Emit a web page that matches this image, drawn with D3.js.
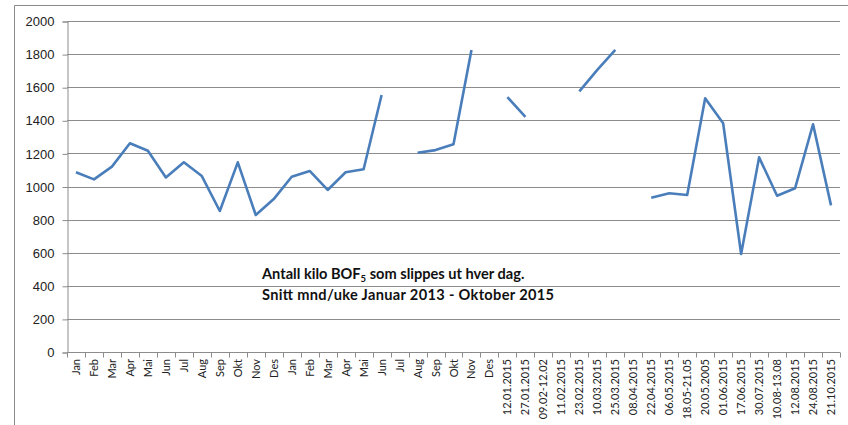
<!DOCTYPE html>
<html>
<head>
<meta charset="utf-8">
<script src="https://cdn.jsdelivr.net/npm/d3@7"></script>
<style>
  body { margin: 0; background: #fff; }
  svg { display: block; font-family: Lato, "Open Sans", sans-serif; }
</style>
</head>
<body>
<svg></svg>
<script>
// categories: months 2013, months 2014, then sampled dates 2015
var months2013 = ["Jan","Feb","Mar","Apr","Mai","Jun","Jul","Aug","Sep","Okt","Nov","Des"];
var months2014 = ["Jan","Feb","Mar","Apr","Mai","Jun","Jul","Aug","Sep","Okt","Nov","Des"];
var dates2015 = ["12.01.2015","27.01.2015","09.02-12.02","11.02.2015","23.02.2015","10.03.2015",
  "25.03.2015","08.04.2015","22.04.2015","06.05.2015","18.05-21.05","20.05.2005","01.06.2015",
  "17.06.2015","30.07.2015","10.08-13.08","12.08.2015","24.08.2015","21.10.2015"];

// kilo BOF5 per day (null = no value)
var values2013 = [1086, 1043, 1120, 1261, 1216, 1055, 1146, 1063, 852, 1146, 828, 924];
var values2014 = [1059, 1094, 979, 1086, 1104, 1553, null, 1204, 1220, 1255, 1825, null];
var values2015 = [1540, 1420, null, null, 1575, 1705, 1825, null, 932, 959, 949, 1533, 1382,
  592, 1176, 944, 989, 1376, 886];

var yTicks = [0, 200, 400, 600, 800, 1000, 1200, 1400, 1600, 1800, 2000];

var labels = months2013.concat(months2014, dates2015);
var values = values2013.concat(values2014, values2015);
var data = labels.map(function(l, i) { return { key: i, label: l, value: values[i] }; });

var width = 848, height = 425;
var margin = {top: 21, right: 8, bottom: 73, left: 67};

var svg = d3.select("svg")
    .attr("width", width)
    .attr("height", height);

// outer frame (top and left edges visible)
svg.append("path")
    .attr("d", "M14.5," + height + "V5.5H" + width)
    .attr("fill", "none")
    .attr("stroke", "#8a8a8a")
    .attr("stroke-width", 1);

var x = d3.scaleBand()
    .domain(data.map(function(d) { return d.key; }))
    .range([margin.left, width - margin.right]);

var y = d3.scaleLinear()
    .domain([0, 2000])
    .range([height - margin.bottom, margin.top]);

var g = svg.append("g");

// gridlines
g.selectAll("line.grid")
  .data(yTicks.filter(function(t) { return t > 0; }))
  .enter().append("line")
    .attr("class", "grid")
    .attr("x1", margin.left)
    .attr("x2", width - margin.right)
    .attr("y1", function(d) { return Math.round(y(d)) + 0.5; })
    .attr("y2", function(d) { return Math.round(y(d)) + 0.5; })
    .attr("stroke", "#8c8c8c")
    .attr("stroke-width", 1);

// y axis
var yAxis = g.append("g")
    .attr("transform", "translate(" + (margin.left + 0.5) + ",0.5)")
    .call(d3.axisLeft(y).tickValues(yTicks).tickSize(5).tickPadding(8).tickFormat(d3.format("d")));
yAxis.select(".domain").attr("stroke", "#8c8c8c");
yAxis.selectAll(".tick line").attr("stroke", "#8c8c8c");
yAxis.selectAll(".tick text")
    .attr("fill", "#222")
    .style("font-size", "13px");

// x axis: ticks between categories
var x0 = y(0);
var xAxis = g.append("g");
xAxis.append("line")
    .attr("x1", margin.left)
    .attr("x2", width - margin.right)
    .attr("y1", Math.round(x0) + 0.5)
    .attr("y2", Math.round(x0) + 0.5)
    .attr("stroke", "#8c8c8c");
xAxis.selectAll("line.tick")
  .data(d3.range(labels.length + 1))
  .enter().append("line")
    .attr("class", "tick")
    .attr("x1", function(i) { return Math.round(margin.left + i * x.bandwidth()) + 0.5; })
    .attr("x2", function(i) { return Math.round(margin.left + i * x.bandwidth()) + 0.5; })
    .attr("y1", Math.round(x0) + 0.5)
    .attr("y2", Math.round(x0) + 5.5)
    .attr("stroke", "#8c8c8c");

xAxis.selectAll("text")
  .data(data)
  .enter().append("text")
    .attr("transform", function(d) {
      return "translate(" + (x(d.key) + x.bandwidth() / 2 + 4) + "," + (x0 + 7) + ") rotate(-90)";
    })
    .attr("text-anchor", "end")
    .attr("fill", "#222")
    .style("font-size", "11px")
    .text(function(d) { return d.label; });

// the series line, broken where values are missing
var line = d3.line()
    .defined(function(d) { return d.value != null; })
    .x(function(d) { return x(d.key) + x.bandwidth() / 2; })
    .y(function(d) { return y(d.value); });

g.append("path")
    .datum(data)
    .attr("fill", "none")
    .attr("stroke", "#4a7ebb")
    .attr("stroke-width", 2.6)
    .attr("stroke-linejoin", "round")
    .attr("d", line);

// annotation
var note = g.append("text")
    .attr("x", 262)
    .attr("y", 279)
    .attr("fill", "#111")
    .style("font-size", "14.6px")
    .style("font-weight", "bold");
note.append("tspan").text("Antall kilo BOF");
note.append("tspan").attr("dy", 3).style("font-size", "9.5px").text("5");
note.append("tspan").attr("dy", -3).text(" som slippes ut hver dag.");

g.append("text")
    .attr("x", 262)
    .attr("y", 300)
    .attr("fill", "#111")
    .style("font-size", "14.6px")
    .style("font-weight", "bold")
    .attr("textLength", 292)
    .attr("lengthAdjust", "spacing")
    .text("Snitt mnd/uke Januar 2013 - Oktober 2015");
</script>
</body>
</html>
